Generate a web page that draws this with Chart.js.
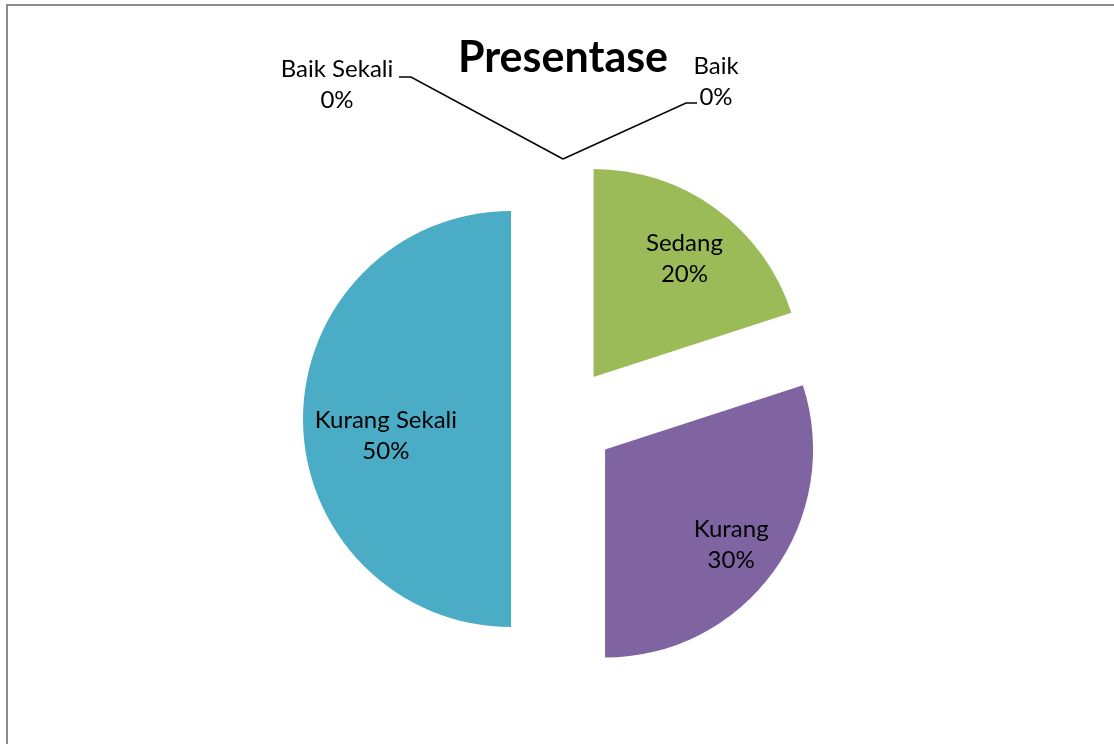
<!DOCTYPE html>
<html>
<head>
    <meta charset="utf-8">
    <title>Presentase</title>
    <script src="https://cdn.jsdelivr.net/npm/chart.js"></script>
    <style>
        html, body {
            margin: 0;
            padding: 0;
            background: #ffffff;
        }

        canvas {
            display: block;
        }
    </style>
</head>
<body>
    <canvas id="pieChart" width="1114" height="744"></canvas>

    <script>
        // Data
        const categories = ['Baik Sekali', 'Baik', 'Sedang', 'Kurang', 'Kurang Sekali'];
        const percentValues = [0, 0, 20, 30, 50];
        const sliceColors = ['#4F81BD', '#C0504D', '#9BBB59', '#8064A2', '#4BACC6'];
        const chartTitle = 'Presentase';

        const EXPLODE = 52;
        const FONT = 'Lato, "Open Sans", sans-serif';
        const LINE_GAP = 31;

        // placement of data labels: inside slices (polar), or outside with a leader line
        const labelPlacement = [
            { dx: -226, dy: -334, line: [[-152, -342], [-164, -342]] },
            { dx: 153, dy: -337, line: [[123, -316], [134, -316]] },
            { frac: 0.716, shift: 1.6 },
            { frac: 0.759, shift: 1.0 },
            { frac: 0.607, shift: -7.7 }
        ];

        const explodedPie = {
            id: 'explodedPie',
            beforeDraw(chart) {
                const ctx = chart.ctx;
                ctx.save();
                ctx.strokeStyle = '#8c8c8c';
                ctx.lineWidth = 2;
                ctx.beginPath();
                ctx.moveTo(1114, 5);
                ctx.lineTo(7, 5);
                ctx.lineTo(7, 744);
                ctx.stroke();
                ctx.restore();
            },
            beforeDatasetDraw(chart, args) {
                const ctx = chart.ctx;
                args.meta.data.forEach(arc => {
                    const mid = (arc.startAngle + arc.endAngle) / 2;
                    ctx.save();
                    ctx.translate(Math.cos(mid) * EXPLODE, Math.sin(mid) * EXPLODE);
                    arc.draw(ctx);
                    ctx.restore();
                });
                return false;
            },
            afterDatasetsDraw(chart) {
                const ctx = chart.ctx;
                const arcs = chart.getDatasetMeta(0).data;
                const total = percentValues.reduce((a, b) => a + b, 0);
                ctx.save();
                ctx.font = '24px ' + FONT;
                ctx.fillStyle = '#000000';
                ctx.textAlign = 'center';
                ctx.textBaseline = 'middle';
                arcs.forEach((arc, i) => {
                    const mid = (arc.startAngle + arc.endAngle) / 2;
                    const cx = arc.x + Math.cos(mid) * EXPLODE;
                    const cy = arc.y + Math.sin(mid) * EXPLODE;
                    const p = labelPlacement[i];
                    const pct = Math.round(percentValues[i] / total * 100) + '%';
                    let lx, ly;
                    if (p.line) {
                        lx = arc.x + p.dx;
                        ly = arc.y + p.dy;
                        const tipR = arc.outerRadius + EXPLODE;
                        ctx.strokeStyle = '#000000';
                        ctx.lineWidth = 1.5;
                        ctx.beginPath();
                        ctx.moveTo(arc.x + Math.cos(mid) * tipR, arc.y + Math.sin(mid) * tipR);
                        p.line.forEach(pt => ctx.lineTo(arc.x + pt[0], arc.y + pt[1]));
                        ctx.stroke();
                    } else {
                        const a = mid + p.shift * Math.PI / 180;
                        lx = cx + Math.cos(a) * arc.outerRadius * p.frac;
                        ly = cy + Math.sin(a) * arc.outerRadius * p.frac;
                    }
                    ctx.fillText(categories[i], lx, ly - LINE_GAP / 2);
                    ctx.fillText(pct, lx, ly + LINE_GAP / 2);
                });
                ctx.restore();
            }
        };

        const pieChart = new Chart(document.getElementById('pieChart'), {
            type: 'pie',
            data: {
                labels: categories,
                datasets: [{
                    data: percentValues,
                    backgroundColor: sliceColors,
                    borderWidth: 0,
                    clip: false
                }]
            },
            options: {
                responsive: false,
                animation: false,
                layout: {
                    padding: { top: 0, bottom: 117, left: 12, right: 0 }
                },
                plugins: {
                    legend: { display: false },
                    tooltip: { enabled: false },
                    title: {
                        display: true,
                        text: chartTitle,
                        color: '#000000',
                        font: { family: FONT, size: 43, weight: 'bold', lineHeight: 1.2 },
                        padding: { top: 32, bottom: 127.4 }
                    }
                }
            },
            plugins: [explodedPie]
        });
    </script>
</body>
</html>
